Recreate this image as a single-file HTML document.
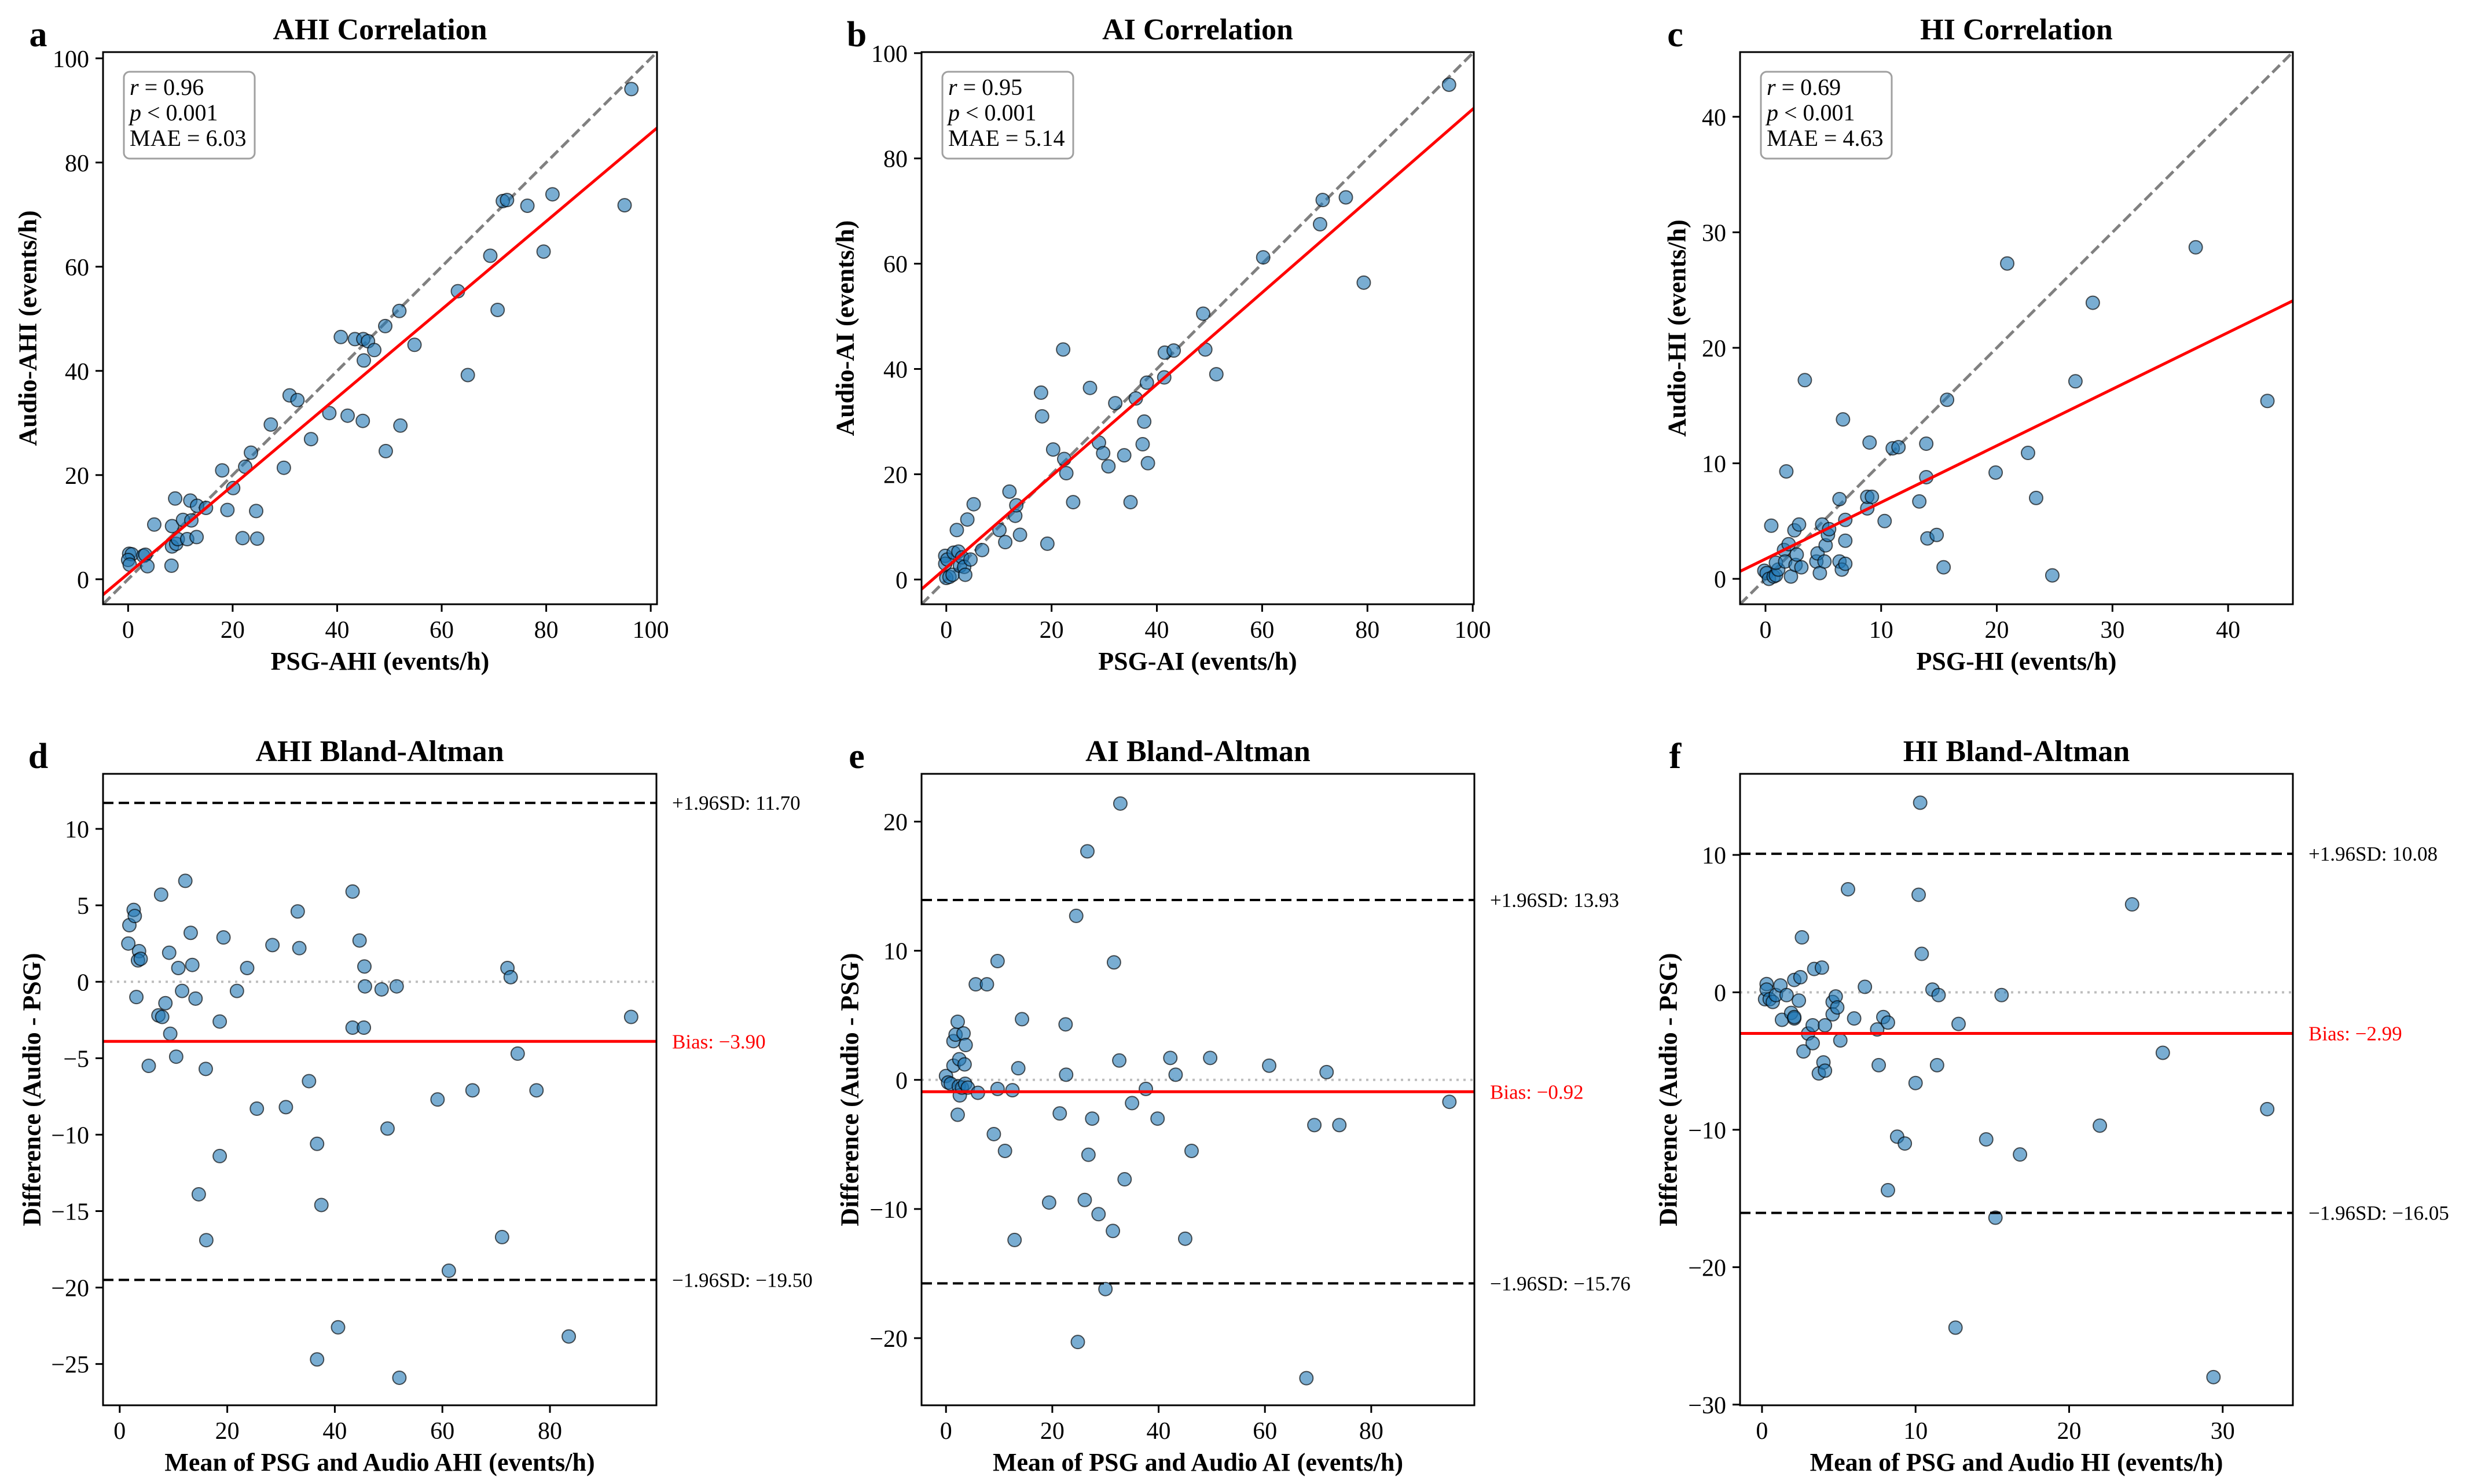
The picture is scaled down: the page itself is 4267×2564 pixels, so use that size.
<!DOCTYPE html>
<html><head><meta charset="utf-8"><title>Audio vs PSG agreement</title>
<style>
html,body{margin:0;padding:0;background:#fff;}
svg{display:block;font-family:"Liberation Serif","Times New Roman",serif;}
</style></head>
<body>
<svg id="fig" xmlns="http://www.w3.org/2000/svg" width="4267" height="2564" viewBox="0 0 4267 2564">
<rect x="0" y="0" width="4267" height="2564" fill="#fff"/>
</svg>
<script>
// ---------- data ----------
const ahiPsg   = [0.2,0.7,0,0.3,2.9,3.3,3.7,5.0,8.3,8.4,8.4,9.0,9.2,9.5,10.5,11.3,11.9,12.1,13.1,13.2,14.9,18.0,19.0,20.1,21.9,22.4,23.5,24.5,24.7,27.3,29.8,30.9,32.4,35.0,38.5,40.7,42.0,43.4,45.0,45.9,45.1,44.9,47.1,49.2,49.3,51.9,52.1,54.8,63.1,65.0,69.3,70.7,71.7,72.5,76.4,79.5,81.2,95.0,96.3];
const ahiAudio = [4.9,4.8,3.7,2.8,4.5,4.7,2.5,10.5,2.6,10.2,6.3,15.5,6.8,7.7,11.4,7.7,15.1,11.3,8.1,14.1,13.7,20.9,13.3,17.5,7.9,21.6,24.3,13.1,7.8,29.7,21.4,35.3,34.4,26.9,31.9,46.5,31.4,46.1,46.1,45.7,42.0,30.4,44.0,48.6,24.6,51.5,29.5,45.0,55.3,39.2,62.1,51.7,72.6,72.8,71.7,62.9,73.9,71.8,94.1];
const aiPsg    = [-0.2,-0.2,0.2,0,0.6,1.2,1.4,2.0,2.3,2.6,3.0,3.4,3.6,4.0,4.6,5.2,6.8,10.1,11.2,12.0,13.1,13.3,14.0,18.0,18.2,19.2,20.3,22.2,22.4,22.8,24.1,27.3,29.0,29.8,30.8,32.1,33.8,35.0,36.0,37.3,37.6,38.1,38.3,41.4,41.5,43.2,48.8,49.2,51.3,60.2,71.0,71.5,75.9,79.3,95.5];
const aiAudio  = [4.5,3.0,3.8,0.3,0.5,0.9,5.1,9.4,5.3,2.6,4.2,2.4,0.9,11.4,3.8,14.3,5.6,9.4,7.1,16.7,12.1,14.1,8.5,35.5,31.0,6.8,24.7,43.7,22.9,20.2,14.7,36.4,26.0,24.0,21.5,33.5,23.6,14.7,34.4,25.7,30.0,37.4,22.1,38.4,43.1,43.5,50.5,43.7,39.0,61.2,67.5,72.1,72.6,56.4,94.0];
const hiPsg    = [-0.1,0.1,0.3,0.5,0.7,0.9,1.1,0.9,1.6,1.7,1.8,2.0,2.2,2.5,2.6,2.7,2.9,3.1,3.4,4.4,4.5,4.7,4.9,5.1,5.2,5.4,5.5,6.4,6.4,6.6,6.7,6.9,6.9,6.9,8.8,8.8,9.2,9.0,10.3,11.0,11.5,13.3,13.9,13.9,14.0,14.8,15.4,15.7,19.9,20.9,22.7,23.4,24.8,26.8,28.3,37.2,43.4];
const hiAudio  = [0.7,0.5,0.0,4.6,0.2,0.3,0.8,1.4,2.5,1.5,9.3,3.0,0.2,4.2,1.2,2.1,4.7,1.0,17.2,1.5,2.2,0.5,4.7,1.5,2.9,3.8,4.3,6.9,1.5,0.8,13.8,1.3,3.3,5.1,6.1,7.1,7.1,11.8,5.0,11.3,11.4,6.7,11.7,8.8,3.5,3.8,1.0,15.5,9.2,27.3,10.9,7.0,0.3,17.1,23.9,28.7,15.4];

const ahiMean = [1.6,1.8,2.6,2.8,3.1,3.6,3.4,3.9,5.4,7.2,7.7,7.9,8.5,9.2,9.4,10.5,10.9,11.6,12.2,13.2,13.5,14.1,14.7,16.0,16.1,18.6,18.6,19.3,21.8,23.7,25.5,28.4,30.9,33.1,33.4,35.2,36.7,36.7,37.5,40.6,43.3,43.3,44.6,45.4,45.5,45.6,48.7,49.8,51.5,52.0,59.1,61.2,65.6,71.1,72.1,72.7,74.0,77.5,83.5,95.1];
const ahiDiff = [2.5,3.7,4.7,4.3,-1.0,2.0,1.4,1.5,-5.5,-2.2,5.7,-2.3,-1.4,1.9,-3.4,-4.9,0.9,-0.6,6.6,3.2,1.1,-1.1,-13.9,-5.7,-16.9,-2.6,-11.4,2.9,-0.6,0.9,-8.3,2.4,-8.2,4.6,2.2,-6.5,-10.6,-24.7,-14.6,-22.6,5.9,-3.0,2.7,-3.0,1.0,-0.3,-0.5,-9.6,-0.3,-25.9,-7.7,-18.9,-7.1,-16.7,0.9,0.3,-4.7,-7.1,-23.2,-2.3];
const aiMean = [0,0.4,0.9,1.4,1.4,1.8,2.2,2.2,2.4,2.5,2.6,3.0,3.3,3.5,3.6,3.7,4.1,5.6,6.0,7.7,9.0,9.7,9.7,11.1,12.5,12.9,13.6,14.3,19.4,21.4,22.5,22.6,24.5,24.8,26.1,26.6,26.8,27.5,28.7,30.0,31.4,31.6,32.6,32.8,33.6,35.0,37.6,39.8,42.2,43.2,45.0,46.2,49.7,60.8,67.8,69.3,71.6,74.0,94.7];
const aiDiff = [0.3,-0.2,-0.3,1.1,3.0,3.5,4.5,-2.7,-0.5,1.6,-1.2,-0.6,3.6,1.2,-0.3,2.7,-0.6,7.4,-1.0,7.4,-4.2,9.2,-0.7,-5.5,-0.8,-12.4,0.9,4.7,-9.5,-2.6,4.3,0.4,12.7,-20.3,-9.3,17.7,-5.8,-3.0,-10.4,-16.2,-11.7,9.1,1.5,21.4,-7.7,-1.8,-0.7,-3.0,1.7,0.4,-12.3,-5.5,1.7,1.1,-23.1,-3.5,0.6,-3.5,-1.7];
const hiMean = [0.2,0.3,0.3,0.5,0.7,0.9,1.2,1.3,1.6,1.9,2.1,2.1,2.1,2.4,2.5,2.6,2.7,3.0,3.3,3.3,3.4,3.7,3.9,4.0,4.1,4.1,4.6,4.6,4.8,4.9,5.1,5.6,6.0,6.7,7.5,7.6,7.9,8.2,8.2,8.8,9.3,10.0,10.2,10.3,10.4,11.1,11.4,11.5,12.6,12.8,14.6,15.2,15.6,16.8,22.0,24.1,26.1,29.4,32.9];
const hiDiff = [-0.5,0.6,0.2,-0.5,-0.7,-0.2,0.5,-2.0,-0.2,-1.5,-1.9,0.9,-1.8,-0.6,1.1,4.0,-4.3,-3.0,-2.4,-3.7,1.7,-5.9,1.8,-5.1,-2.4,-5.7,-0.7,-1.6,-0.3,-1.1,-3.5,7.5,-1.9,0.4,-2.7,-5.3,-1.8,-2.2,-14.4,-10.5,-11.0,-6.6,7.1,13.8,2.8,0.2,-5.3,-0.2,-24.4,-2.3,-10.7,-16.4,-0.2,-11.8,-9.7,6.4,-4.4,-28.0,-8.5];

const corrR   = ["0.96","0.95","0.69"];
const corrP   = ["0.001","0.001","0.001"];
const corrMAE = ["6.03","5.14","4.63"];
const baBias  = [-3.90,-0.92,-2.99];
const baUpper = [11.70,13.93,10.08];
const baLower = [-19.50,-15.76,-16.05];

const xTicksA = [0,20,40,60,80,100];
const yTicksA = [0,20,40,60,80,100];
const xTicksC = [0,10,20,30,40];
const yTicksC = [0,10,20,30,40];
const xTicksD = [0,20,40,60,80];
const yTicksD = [-25,-20,-15,-10,-5,0,5,10];
const xTicksE = [0,20,40,60,80];
const yTicksE = [-20,-10,0,10,20];
const xTicksF = [0,10,20,30];
const yTicksF = [-30,-20,-10,0,10];

// ---------- drawing ----------
const NS = "http://www.w3.org/2000/svg";
const svg = document.getElementById("fig");
function mk(tag, attrs, parent){
  const e = document.createElementNS(NS, tag);
  for (const k in attrs) e.setAttribute(k, attrs[k]);
  (parent||svg).appendChild(e);
  return e;
}
function fmt(v){ return (v<0?"\u2212":"") + Math.abs(v); }
function fmt2(v){ return (v<0?"\u2212":"") + Math.abs(v).toFixed(2); }

function makeAxes(c){
  const sx = v => c.L + (v - c.x0) / (c.x1 - c.x0) * (c.R - c.L);
  const sy = v => c.B - (v - c.y0) / (c.y1 - c.y0) * (c.B - c.T);
  const g = mk("g", {});
  
  
  const cp = mk("clipPath", {id: "clip-" + c.id}, g);
  mk("rect", {x: c.L, y: c.T, width: c.R - c.L, height: c.B - c.T}, cp);
  const plot = mk("g", {"clip-path": "url(#clip-" + c.id + ")"}, g);
  
  
  // title
  const t = mk("text", {x: (c.L + c.R) / 2, y: c.T - 22, "text-anchor": "middle", "font-size": 52, "font-weight": "bold"}, g);
  t.textContent = c.title;
  
  
  const lt = mk("text", {x: c.L - 112, y: c.T - 10, "text-anchor": "middle", "font-size": 62, "font-weight": "bold"}, g);
  lt.textContent = c.letter;
  
  
  // ticks
  c.xt.forEach(v => {
    const x = sx(v);
    const tk = mk("line", {x1: x, x2: x, y1: c.B, y2: c.B + 13, stroke: "#000", "stroke-width": 3}, g);
    
    
    const tl = mk("text", {x: x, y: c.B + 58, "text-anchor": "middle", "font-size": 42}, g);
    tl.textContent = fmt(v);
    
    
  });
  c.yt.forEach(v => {
    const y = sy(v);
    const tk = mk("line", {x1: c.L - 13, x2: c.L, y1: y, y2: y, stroke: "#000", "stroke-width": 3}, g);
    
    
    const tl = mk("text", {x: c.L - 24, y: y + 15, "text-anchor": "end", "font-size": 42}, g);
    tl.textContent = fmt(v);
    
    
  });
  const xl = mk("text", {x: (c.L + c.R) / 2, y: c.B + 113, "text-anchor": "middle", "font-size": 44, "font-weight": "bold"}, g);
  xl.textContent = c.xlabel;
  
  
  const ym = (c.T + c.B) / 2, yx = c.L - c.ylOff;
  const yl = mk("text", {x: yx, y: ym, "text-anchor": "middle", "dominant-baseline": "central", "font-size": 44, "font-weight": "bold", transform: "rotate(-90 " + yx + " " + ym + ")"}, g);
  yl.textContent = c.ylabel;
  
  
  return {g, plot, sx, sy};
}
function drawFrame(c, g){
  const fr = mk("rect", {x: c.L, y: c.T, width: c.R - c.L, height: c.B - c.T, fill: "none", stroke: "#000", "stroke-width": 3}, g);
  
  
}
function drawPoints(ax, xs, ys){
  xs.forEach((v, i) => {
    const p = mk("circle", {cx: ax.sx(v), cy: ax.sy(ys[i]), r: 11.5, fill: "rgba(31,119,180,0.6)", stroke: "rgba(0,0,0,0.65)", "stroke-width": 2}, ax.plot);
    
    
  });
}

const corrPanels = [
  {id:"ahi-corr", letter:"a", title:"AHI Correlation", L:178, R:1135, T:90, B:1044, x0:-4.8, x1:101.2, y0:-4.8, y1:101.2, xt:xTicksA, yt:yTicksA, xlabel:"PSG-AHI (events/h)", ylabel:"Audio-AHI (events/h)", ylOff:130, xs:ahiPsg, ys:ahiAudio},
  {id:"ai-corr", letter:"b", title:"AI Correlation", L:1592, R:2546, T:90, B:1044, x0:-4.7, x1:100.2, y0:-4.7, y1:100.2, xt:xTicksA, yt:yTicksA, xlabel:"PSG-AI (events/h)", ylabel:"Audio-AI (events/h)", ylOff:132, xs:aiPsg, ys:aiAudio},
  {id:"hi-corr", letter:"c", title:"HI Correlation", L:3006, R:3961, T:90, B:1044, x0:-2.2, x1:45.6, y0:-2.2, y1:45.6, xt:xTicksC, yt:yTicksC, xlabel:"PSG-HI (events/h)", ylabel:"Audio-HI (events/h)", ylOff:109, xs:hiPsg, ys:hiAudio}
];
corrPanels.forEach((c, k) => {
  const ax = makeAxes(c);
  // identity line
  const id = mk("line", {x1: ax.sx(c.x0), y1: ax.sy(c.x0), x2: ax.sx(c.x1), y2: ax.sy(c.x1), stroke: "#808080", "stroke-width": 5, "stroke-dasharray": "18 8"}, ax.plot);
  
  
  drawPoints(ax, c.xs, c.ys);
  // least squares fit
  const n = c.xs.length;
  const mx = c.xs.reduce((a, b) => a + b, 0) / n, my = c.ys.reduce((a, b) => a + b, 0) / n;
  let sxy = 0, sxx = 0;
  for (let i = 0; i < n; i++){ sxy += (c.xs[i] - mx) * (c.ys[i] - my); sxx += (c.xs[i] - mx) ** 2; }
  const m = sxy / sxx, b0 = my - m * mx;
  const fl = mk("line", {x1: ax.sx(c.x0 - 1), y1: ax.sy(m * (c.x0 - 1) + b0), x2: ax.sx(c.x1 + 1), y2: ax.sy(m * (c.x1 + 1) + b0), stroke: "#ff0000", "stroke-width": 5}, ax.plot);
  
  
  // stats box
  const bx = mk("rect", {x: c.L + 36, y: c.T + 34, width: 226, height: 150, rx: 10, fill: "rgba(255,255,255,0.85)", stroke: "#a0a0a0", "stroke-width": 3}, ax.g);
  
  
  const lines = [
    '<tspan font-style="italic">r</tspan> = ' + corrR[k],
    '<tspan font-style="italic">p</tspan> &lt; ' + corrP[k],
    'MAE = ' + corrMAE[k]
  ];
  lines.forEach((s, j) => {
    const tx = mk("text", {x: c.L + 46, y: c.T + 74 + j * 44, "font-size": 40}, ax.g);
    tx.innerHTML = s;
    
    
  });
  drawFrame(c, ax.g);
});

const baPanels = [
  {id:"ahi-ba", letter:"d", title:"AHI Bland-Altman", L:178, R:1134, T:1337, B:2428, x0:-3.1, x1:99.8, y0:-27.7, y1:13.6, xt:xTicksD, yt:yTicksD, xlabel:"Mean of PSG and Audio AHI (events/h)", ylabel:"Difference (Audio - PSG)", ylOff:123, xs:ahiMean, ys:ahiDiff},
  {id:"ai-ba", letter:"e", title:"AI Bland-Altman", L:1592, R:2547, T:1337, B:2428, x0:-4.6, x1:99.4, y0:-25.2, y1:23.7, xt:xTicksE, yt:yTicksE, xlabel:"Mean of PSG and Audio AI (events/h)", ylabel:"Difference (Audio - PSG)", ylOff:124, xs:aiMean, ys:aiDiff},
  {id:"hi-ba", letter:"f", title:"HI Bland-Altman", L:3006, R:3961, T:1337, B:2428, x0:-1.43, x1:34.57, y0:-30.05, y1:15.9, xt:xTicksF, yt:yTicksF, xlabel:"Mean of PSG and Audio HI (events/h)", ylabel:"Difference (Audio - PSG)", ylOff:124, xs:hiMean, ys:hiDiff}
];
baPanels.forEach((c, k) => {
  const ax = makeAxes(c);
  const z = mk("line", {x1: c.L, x2: c.R, y1: ax.sy(0), y2: ax.sy(0), stroke: "#bdbdbd", "stroke-width": 4, "stroke-dasharray": "4 8"}, ax.plot);
  
  
  drawPoints(ax, c.xs, c.ys);
  const up = mk("line", {x1: c.L, x2: c.R, y1: ax.sy(baUpper[k]), y2: ax.sy(baUpper[k]), stroke: "#000", "stroke-width": 4, "stroke-dasharray": "18 9"}, ax.plot);
  
  
  const lo = mk("line", {x1: c.L, x2: c.R, y1: ax.sy(baLower[k]), y2: ax.sy(baLower[k]), stroke: "#000", "stroke-width": 4, "stroke-dasharray": "18 9"}, ax.plot);
  
  
  const bl = mk("line", {x1: c.L, x2: c.R, y1: ax.sy(baBias[k]), y2: ax.sy(baBias[k]), stroke: "#ff0000", "stroke-width": 5}, ax.plot);
  
  
  const t1 = mk("text", {x: c.R + 27, y: ax.sy(baUpper[k]) + 12, "font-size": 35}, ax.g);
  t1.textContent = "+1.96SD: " + fmt2(baUpper[k]);
  
  
  const t2 = mk("text", {x: c.R + 27, y: ax.sy(baBias[k]) + 12, "font-size": 35, fill: "#ff0000"}, ax.g);
  t2.textContent = "Bias: " + fmt2(baBias[k]);
  
  
  const t3 = mk("text", {x: c.R + 27, y: ax.sy(baLower[k]) + 12, "font-size": 35}, ax.g);
  t3.textContent = "\u22121.96SD: " + fmt2(baLower[k]);
  
  
  drawFrame(c, ax.g);
});
</script>
</body></html>
